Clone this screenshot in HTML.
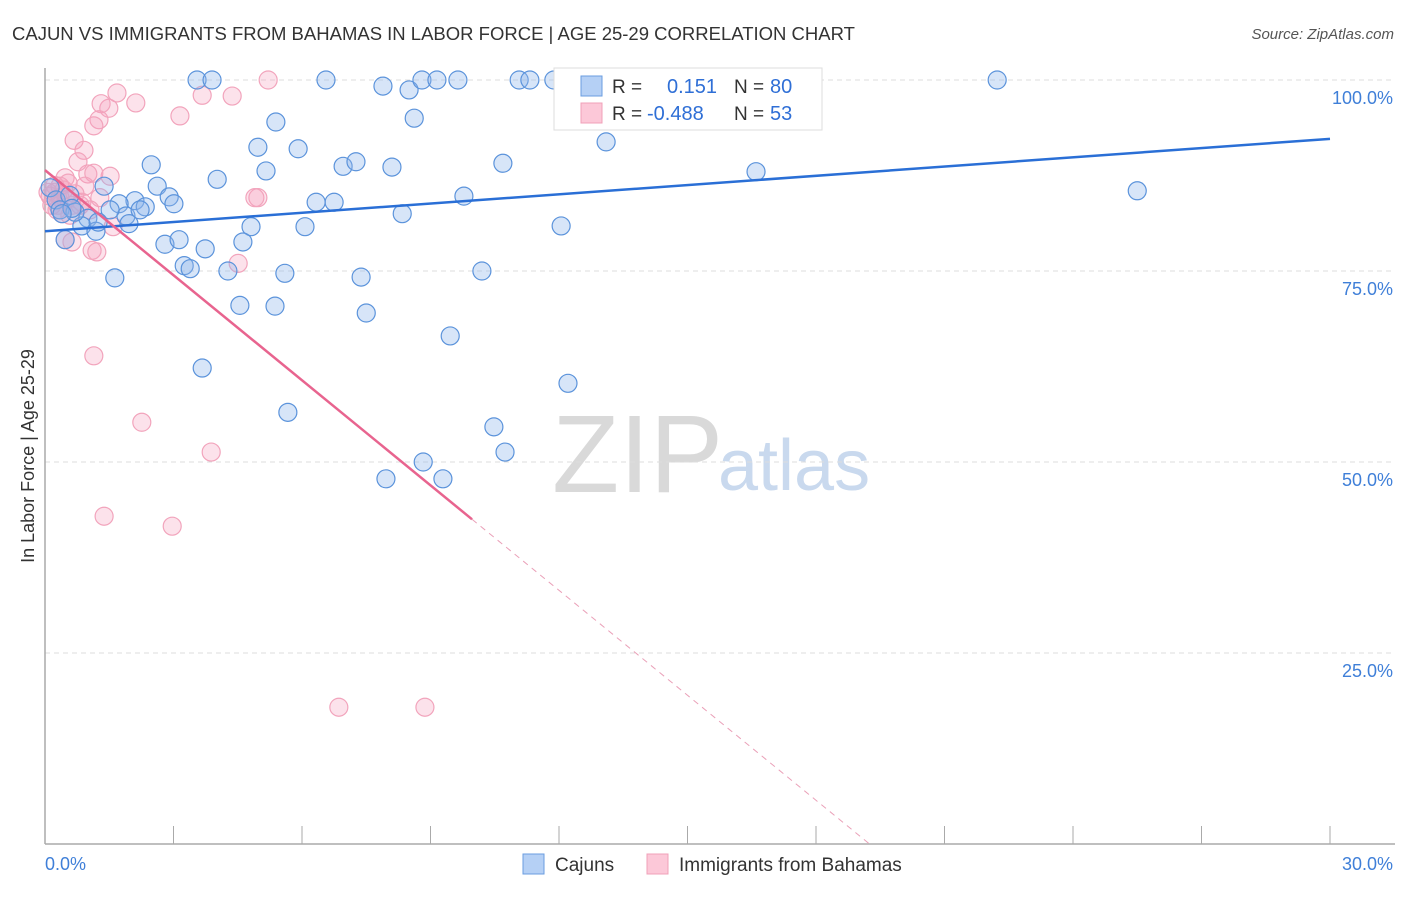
<!DOCTYPE html>
<html><head><meta charset="utf-8"><style>
body{margin:0;background:#fff;font-family:"Liberation Sans",sans-serif;}
svg text{font-family:"Liberation Sans",sans-serif;}
</style></head><body>
<svg id="chart" width="1406" height="892" xmlns="http://www.w3.org/2000/svg">
<text x="12" y="40" font-size="18.5" fill="#333">CAJUN VS IMMIGRANTS FROM BAHAMAS IN LABOR FORCE | AGE 25-29 CORRELATION CHART</text>
<text x="1394" y="39" font-size="15" fill="#555" font-style="italic" text-anchor="end">Source: ZipAtlas.com</text>
<text x="552" y="492" font-size="110" fill="#d9d9d9" font-family="Liberation Serif">ZIP</text>
<text x="718" y="490" font-size="72" fill="#c9d9ee">atlas</text>
<g id="grid"></g>
<g id="axes"></g>
<g id="pts"></g>
<g id="lines"></g>
<text transform="translate(34,456) rotate(-90)" font-size="18" fill="#333" text-anchor="middle">In Labor Force | Age 25-29</text>
<g>
<rect x="554" y="68" width="268" height="62" fill="#fff" stroke="#ddd"/>
<rect x="581" y="76" width="21" height="20" fill="#b5d0f5" stroke="#6a9de0"/>
<rect x="581" y="103" width="21" height="20" fill="#fcc8d8" stroke="#f0a0b8"/>
<text x="612" y="93" font-size="19" fill="#333">R =</text>
<text x="667" y="93" font-size="20" fill="#2f6fd6">0.151</text>
<text x="734" y="93" font-size="19" fill="#333">N =</text>
<text x="770" y="93" font-size="20" fill="#2f6fd6">80</text>
<text x="612" y="120" font-size="19" fill="#333">R =</text>
<text x="647" y="120" font-size="20" fill="#2f6fd6">-0.488</text>
<text x="734" y="120" font-size="19" fill="#333">N =</text>
<text x="770" y="120" font-size="20" fill="#2f6fd6">53</text>
</g>
<g>
<rect x="523" y="854" width="21" height="20" fill="#b5d0f5" stroke="#6a9de0"/>
<text x="555" y="871" font-size="19" fill="#333">Cajuns</text>
<rect x="647" y="854" width="21" height="20" fill="#fcc8d8" stroke="#f0a0b8"/>
<text x="679" y="871" font-size="19" fill="#333">Immigrants from Bahamas</text>
</g>
</svg>
<script>
const blueX=[3.55,3.90,6.56,7.89,8.50,8.80,9.15,9.64,11.07,11.32,11.88,14.92,22.23,5.39,8.62,13.10,4.97,5.91,2.48,6.96,7.26,8.10,10.69,16.60,4.02,5.16,25.50,2.62,1.38,2.90,9.78,2.10,1.73,2.34,3.01,6.33,6.75,8.34,1.00,1.89,1.96,0.86,1.19,4.81,6.07,12.05,2.80,3.13,4.62,3.74,0.47,3.25,3.39,4.27,5.60,7.38,10.20,1.63,4.55,5.37,7.50,9.46,3.67,12.21,5.67,10.48,10.74,8.83,7.96,9.29,0.12,0.26,0.35,0.58,0.70,1.52,2.22,1.24,0.63,0.40];
const blueY=[100,100,100,99.2,98.7,100,100,100,100,100,100,100,100,94.5,95.0,91.9,91.2,91.0,88.9,88.7,89.3,88.6,89.1,88.0,87.0,88.1,85.5,86.1,86.1,84.7,84.8,84.2,83.8,83.4,83.8,84.0,84.0,82.5,81.9,82.2,81.2,80.9,80.2,80.8,80.8,80.9,78.5,79.1,78.8,77.9,79.1,75.7,75.3,75.0,74.7,74.2,75.0,74.1,70.5,70.4,69.5,66.5,62.3,60.3,56.5,54.6,51.3,50.0,47.8,47.8,85.9,84.3,83.0,84.9,82.7,83.0,83.0,81.4,83.2,82.5];
const pinkX=[5.21,1.68,3.67,4.37,2.12,1.49,1.31,1.26,1.14,3.15,0.68,0.91,0.77,1.00,1.52,1.14,0.47,4.97,4.90,0.35,0.23,0.12,0.16,0.28,0.49,0.93,0.54,0.70,1.28,0.82,0.40,0.58,1.59,0.47,0.63,1.10,1.21,4.51,1.14,2.26,3.88,1.38,2.97,6.86,8.87,0.07,0.23,0.35,0.44,0.63,0.86,0.30,1.05];
const pinkY=[100,98.3,98.0,97.9,97.0,96.3,96.9,94.8,94.0,95.3,92.1,90.8,89.3,87.7,87.4,87.8,87.2,84.6,84.6,86.1,85.3,84.8,83.6,83.0,84.3,86.1,86.5,85.1,84.6,83.6,82.5,82.3,80.8,79.1,78.8,77.7,77.5,76.0,63.9,55.2,51.3,42.9,41.6,17.9,17.9,85.3,86.2,84.6,85.6,83.6,84.0,83.6,83.0];
const yTicks=[100,75,50,25];
const yTickLabels=["100.0%","75.0%","50.0%","25.0%"];
const xTickLabels=["0.0%","30.0%"];
const blueTrendX=[0,30], blueTrendY=[80.2,92.3];
const pinkTrendX=[0,9.97,19.25], pinkTrendY=[88.2,42.5,0];

const X=v=>45+v/30*1285, Y=v=>844-v*7.64;
const NS="http://www.w3.org/2000/svg";
function mk(tag,attrs,parent){const e=document.createElementNS(NS,tag);for(const k in attrs)e.setAttribute(k,attrs[k]);document.getElementById(parent).appendChild(e);return e;}
yTicks.forEach((t,i)=>{
  const g=mk('line',{x1:45,x2:1395,y1:Y(t),y2:Y(t),stroke:'#ddd','stroke-dasharray':'5,4'},'grid');
  
  
  const l=mk('text',{x:1393,y:Y(t)+24,'font-size':18,fill:'#3f7fd8','text-anchor':'end'},'grid');
  l.textContent=yTickLabels[i];
  
  
});
const ax=mk('line',{x1:45,x2:45,y1:68,y2:844,stroke:'#aaa','stroke-width':1.5},'axes');


const bx=mk('line',{x1:45,x2:1395,y1:844,y2:844,stroke:'#aaa','stroke-width':1.5},'axes');


for(let i=0;i<=10;i++){
  const t=mk('line',{x1:X(i*3),x2:X(i*3),y1:826,y2:844,stroke:'#aaa'},'axes');
  
  
}
[[0,'start',45],[30,'end',1393]].forEach((d,i)=>{
  const t=mk('text',{x:d[2],y:870,'font-size':18,fill:'#3f7fd8','text-anchor':d[1]},'axes');
  t.textContent=xTickLabels[i];
  
  
});
pinkX.forEach((x,i)=>{
  const c=mk('circle',{cx:X(x),cy:Y(pinkY[i]),r:9,fill:'rgba(244,160,188,0.3)',stroke:'#f2a4bc','stroke-width':1.2},'pts');
  
  
});
blueX.forEach((x,i)=>{
  const c=mk('circle',{cx:X(x),cy:Y(blueY[i]),r:9,fill:'rgba(140,180,235,0.35)',stroke:'#5b93db','stroke-width':1.2},'pts');
  
  
});
const bl=mk('line',{x1:X(blueTrendX[0]),y1:Y(blueTrendY[0]),x2:X(blueTrendX[1]),y2:Y(blueTrendY[1]),stroke:'#2a6fd6','stroke-width':2.5},'lines');


const pl=mk('line',{x1:X(pinkTrendX[0]),y1:Y(pinkTrendY[0]),x2:X(pinkTrendX[1]),y2:Y(pinkTrendY[1]),stroke:'#e8648f','stroke-width':2.5},'lines');


const pd=mk('line',{x1:X(pinkTrendX[1]),y1:Y(pinkTrendY[1]),x2:X(pinkTrendX[2]),y2:Y(pinkTrendY[2]),stroke:'#eaa0b8','stroke-width':1,'stroke-dasharray':'6,5'},'lines');


</script>
</body></html>
